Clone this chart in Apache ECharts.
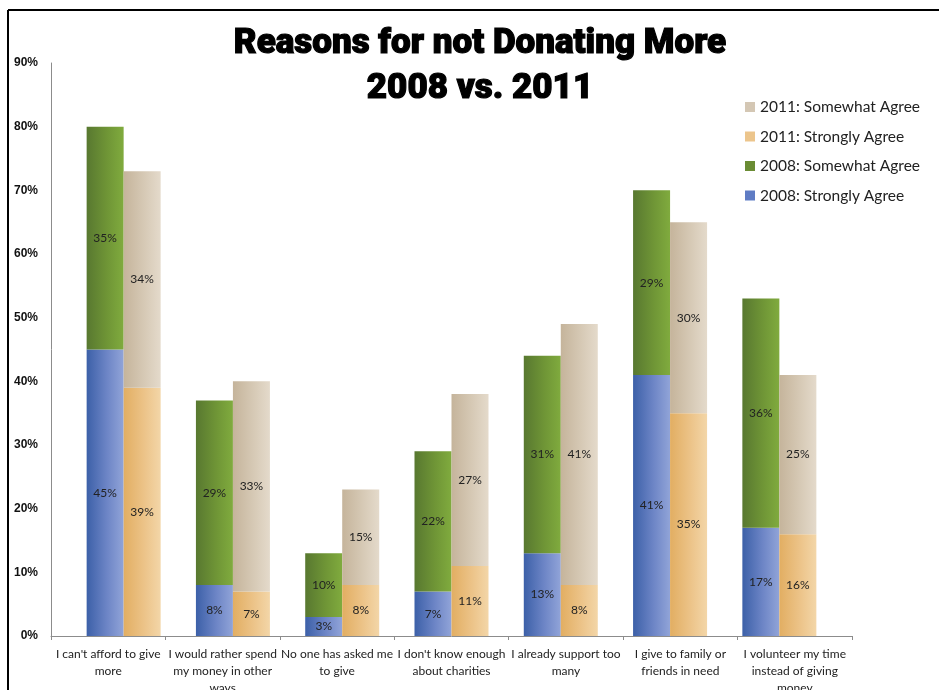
<!DOCTYPE html>
<html>
<head>
<meta charset="utf-8">
<script src="https://cdn.jsdelivr.net/npm/echarts@6/dist/echarts.min.js"></script>
<style>
  html, body { margin: 0; padding: 0; background: #fff; }
  #chart { width: 939px; height: 690px; }
</style>
</head>
<body>
<div id="chart"></div>
<script>
// Survey answers: why respondents don't donate more (percent agreeing)
const categories = [
  "I can't afford to give\nmore",
  "I would rather spend\nmy money in other\nways",
  "No one has asked me\nto give",
  "I don't know enough\nabout charities",
  "I already support too\nmany",
  "I give to family or\nfriends in need",
  "I volunteer my time\ninstead of giving\nmoney"
];
const strongly2008 = [45, 8, 3, 7, 13, 41, 17];
const somewhat2008 = [35, 29, 10, 22, 31, 29, 36];
const strongly2011 = [39, 7, 8, 11, 8, 35, 16];
const somewhat2011 = [34, 33, 15, 27, 41, 30, 25];
const yTicks = [0, 10, 20, 30, 40, 50, 60, 70, 80, 90];
const titleLines = ['Reasons for not Donating More', '2008 vs. 2011'];

const seriesNames = {
  s08: '2008: Strongly Agree',
  w08: '2008: Somewhat Agree',
  s11: '2011: Strongly Agree',
  w11: '2011: Somewhat Agree'
};

function shade(left, mid, right) {
  return new echarts.graphic.LinearGradient(0, 0, 1, 0, [
    { offset: 0, color: left },
    { offset: 0.55, color: mid },
    { offset: 1, color: right }
  ]);
}

const labelFont = 'Lato, "Open Sans", sans-serif';

function barSeries(name, stack, data, fill, legendColor) {
  return {
    name: name,
    type: 'bar',
    stack: stack,
    xAxisIndex: 1,
    yAxisIndex: 1,
    barWidth: 37,
    barGap: '0%',
    data: data,
    itemStyle: { color: fill },
    emphasis: { disabled: true },
    label: {
      show: true,
      position: 'inside',
      formatter: '{c}%',
      color: '#222',
      fontFamily: labelFont,
      fontSize: 12
    },
    legendColor: legendColor
  };
}

const chart = echarts.init(document.getElementById('chart'), null, { renderer: 'canvas' });

const series = [
  barSeries(seriesNames.s08, 'y2008', strongly2008, shade('#3c60a8', '#6d85c6', '#91a4d8'), '#5f7cc4'),
  barSeries(seriesNames.w08, 'y2008', somewhat2008, shade('#587830', '#6f9536', '#80ab3e'), '#6a8c34'),
  barSeries(seriesNames.s11, 'y2011', strongly2011, shade('#e2ae62', '#ecc388', '#f3d6a8'), '#ecc58c'),
  barSeries(seriesNames.w11, 'y2011', somewhat2011, shade('#c5b49b', '#d6c9b5', '#e4dacb'), '#d4c7b4')
];

// heavy headline face
const titleStyle = {
  fontFamily: 'Roboto, "Liberation Sans", sans-serif',
  fontWeight: 900,
  fontSize: 35,
  fill: '#000',
  stroke: '#000',
  lineWidth: 1.2,
  align: 'center',
  verticalAlign: 'top'
};

const option = {
  animation: false,
  backgroundColor: '#fff',
  legend: {
    orient: 'vertical',
    left: 745,
    top: 99,
    padding: 0,
    itemWidth: 10,
    itemHeight: 10,
    itemGap: 13.5,
    icon: 'rect',
    data: [seriesNames.w11, seriesNames.s11, seriesNames.w08, seriesNames.s08].map(n => ({
      name: n,
      itemStyle: { color: series.find(s => s.name === n).legendColor }
    })),
    textStyle: {
      fontFamily: labelFont,
      fontSize: 15.5,
      color: '#222'
    }
  },
  grid: [
    { left: 51, right: 87, top: 63, bottom: 54, outerBoundsMode: 'none', containLabel: false },
    { left: 69, right: 105, top: 63, bottom: 54, outerBoundsMode: 'none', containLabel: false }
  ],
  xAxis: [
    {
      type: 'category',
      gridIndex: 0,
      data: categories,
      axisLine: { show: true, lineStyle: { color: '#8c8c8c', width: 1 } },
      axisTick: { show: true, length: 4, lineStyle: { color: '#8c8c8c' } },
      axisLabel: {
        interval: 0,
        margin: 10,
        color: '#222',
        fontFamily: labelFont,
        fontSize: 12,
        lineHeight: 17,
        hideOverlap: false
      }
    },
    {
      type: 'category',
      gridIndex: 1,
      data: categories,
      show: false
    }
  ],
  yAxis: [
    {
      type: 'value',
      gridIndex: 0,
      min: yTicks[0],
      max: yTicks[yTicks.length - 1],
      interval: 10,
      axisLine: { show: true, lineStyle: { color: '#8c8c8c', width: 1 } },
      axisTick: { show: false },
      splitLine: { show: false },
      axisLabel: {
        margin: 13,
        formatter: '{value}%',
        color: '#111',
        fontFamily: '"Liberation Sans", sans-serif',
        fontWeight: 'bold',
        fontSize: 12
      }
    },
    {
      type: 'value',
      gridIndex: 1,
      min: yTicks[0],
      max: yTicks[yTicks.length - 1],
      interval: 10,
      show: false,
      splitLine: { show: false }
    }
  ],
  series: series,
  graphic: [
    // page frame: top and left rules
    { type: 'line', shape: { x1: 8, y1: 10, x2: 939, y2: 10 }, style: { stroke: '#000', lineWidth: 2 }, silent: true },
    { type: 'line', shape: { x1: 8, y1: 10, x2: 8, y2: 690 }, style: { stroke: '#000', lineWidth: 2 }, silent: true },
    // two-line headline
    { type: 'text', x: 480, y: 27, silent: true, style: Object.assign({ text: titleLines[0] }, titleStyle) },
    { type: 'text', x: 480, y: 72, silent: true, style: Object.assign({ text: titleLines[1] }, titleStyle) }
  ]
};

chart.setOption(option);
</script>
</body>
</html>
